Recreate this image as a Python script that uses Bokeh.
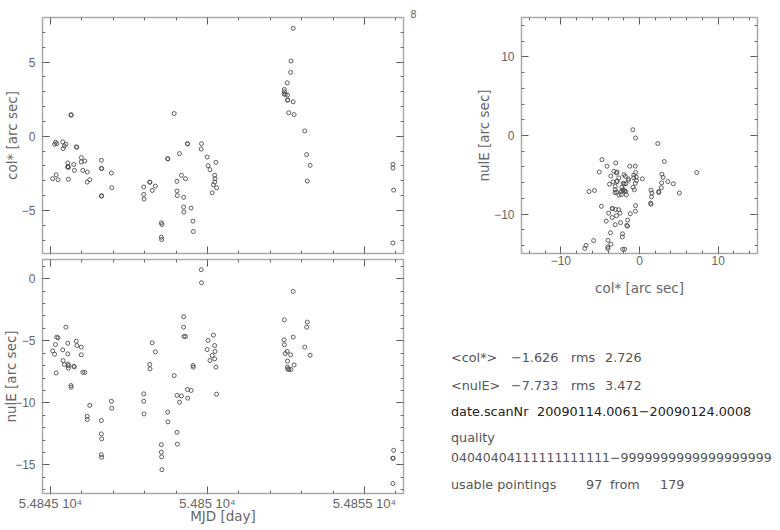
from bokeh.plotting import figure
from bokeh.layouts import row, column
from bokeh.models import LinearAxis, FixedTicker, Range1d, ColumnDataSource, Div
from bokeh.embed import file_html
from bokeh.resources import INLINE
from html import escape

# ---------------- data ----------------
mjd = [54845.07, 54845.13, 54845.16, 54845.18, 54845.20, 54845.24, 54845.39, 54845.40,
       54845.44, 54845.49, 54845.55, 54845.55, 54845.56, 54845.57, 54845.57, 54845.65,
       54845.66, 54845.74, 54845.76, 54845.82, 54845.84, 54845.98, 54845.98, 54846.03,
       54846.09, 54846.17, 54846.17, 54846.25, 54846.62, 54846.62, 54846.63, 54846.62,
       54846.63, 54846.94, 54846.95,
       54847.97, 54847.97, 54847.98, 54848.16, 54848.17, 54848.24, 54848.34, 54848.53,
       54848.53, 54848.54, 54848.55, 54848.73, 54848.74, 54848.94, 54849.03, 54849.03,
       54849.04, 54849.11, 54849.17, 54849.24, 54849.24, 54849.25, 54849.30, 54849.36,
       54849.37, 54849.48, 54849.54, 54849.55, 54849.80, 54849.81, 54849.99, 54850.02,
       54850.08, 54850.15, 54850.19, 54850.23, 54850.24, 54850.23, 54850.27, 54850.29,
       54852.44, 54852.45, 54852.45, 54852.48, 54852.54, 54852.55, 54852.55, 54852.56,
       54852.59, 54852.65, 54852.66, 54852.73, 54852.73, 54852.76, 54853.10, 54853.16,
       54853.18, 54853.27,
       54855.91, 54855.91, 54855.93, 54855.91]
col_star = [-2.86, -0.54, -0.40, -2.60, -0.50, -2.93, -0.38, -0.83,
            -0.65, -0.54, -1.80, -2.07, -2.05, -2.90, -2.10, 1.42,
            1.45, -1.90, -2.30, -0.72, -0.74, -1.44, -1.73, -2.30,
            -1.67, -2.41, -3.09, -2.93, -1.62, -2.16, -2.18, -4.03,
            -4.01, -2.48, -3.47,
            -3.42, -3.92, -4.23, -3.09, -3.10, -3.65, -3.36, -5.83,
            -6.80, -6.96, -5.95, -1.51, -1.53, 1.53, -3.04, -3.69,
            -4.00, -1.17, -2.63, -4.77, -4.12, -5.11, -2.86, -0.50,
            -0.52, -4.84, -5.72, -6.42, -0.86, -0.50, -1.40, -1.98,
            -2.25, -3.81, -3.27, -2.63, -2.86, -3.09, -1.76, -3.47,
            2.84, 3.00, 3.15, 2.82, 3.60, 2.77, 2.43, 2.45,
            1.58, 4.30, 5.07, 7.27, 2.32, 1.46, 0.36, -1.24,
            -3.02, -1.96,
            -1.89, -2.14, -3.63, -7.19]
nu_le = [-5.81, -6.08, -5.30, -7.58, -4.70, -4.76, -5.73, -6.59,
         -6.91, -3.90, -5.19, -6.05, -6.88, -7.20, -7.00, -8.60,
         -8.74, -7.05, -7.10, -5.03, -5.38, -5.51, -6.13, -7.53,
         -7.55, -11.08, -11.34, -10.20, -11.42, -12.50, -12.90, -14.17,
         -14.38, -9.87, -10.43,
         -9.27, -9.87, -10.89, -6.90, -7.26, -5.16, -5.89, -13.36,
         -13.97, -14.35, -15.38, -10.75, -11.53, -7.80, -9.40, -12.37,
         -13.33, -9.95, -9.44, -3.06, -3.90, -4.65, -4.65, -8.92,
         -9.62, -9.00, -6.99, -7.12, 0.73, -0.32, -5.70, -4.97,
         -6.59, -6.18, -4.54, -5.38, -5.86, -6.45, -7.12, -9.30,
         -4.92, -5.32, -3.31, -6.02, -5.86, -6.64, -7.12, -7.26,
         -7.31, -6.13, -7.31, -4.70, -1.02, -6.94, -5.51, -3.90,
         -3.49, -6.16,
         -14.46, -14.46, -13.82, -16.50]

mjd_major = [54845, 54850, 54855]
mjd_minor = list(range(54844, 54857))
mjd_tick_labels = ["5.4845 10\u2074", "5.485 10\u2074", "5.4855 10\u2074"]

col_major = [-5, 0, 5]
col_minor = list(range(-7, 8))
col_tick_labels = ["\u22125", "0", "5"]

nul_major = [-15, -10, -5, 0]
nul_minor = list(range(-17, 2))
nul_tick_labels = ["\u221215", "\u221210", "\u22125", "0"]

sc_major = [-10, 0, 10]
sc_minor = list(range(-14, 15, 2))
sc_tick_labels = ["\u221210", "0", "10"]

page_number = "8"
stat_lines = [
    ["<col*>", "\u22121.626", "rms", "2.726"],
    ["<nulE>", "\u22127.733", "rms", "3.472"],
    ["date.scanNr", "20090114.0061\u221220090124.0008"],
    ["quality"],
    ["04040404111111111111\u22129999999999999999999"],
    ["usable pointings", "97", "from", "179"],
]

# ---------------- styling helpers ----------------
TICK_FONT = "Liberation Sans"
LABEL_FONT = "DejaVu Sans"
GREY = "#666666"
FRAME = "#aaaaaa"


def make_axis(major, minor, labels=None, axis_label=None, tick_size="12px",
              tick_standoff=7, label_standoff=0, label_size="13.5px"):
    ax = LinearAxis(ticker=FixedTicker(ticks=major, minor_ticks=minor))
    ax.axis_line_color = None
    ax.major_tick_in = 7
    ax.major_tick_out = 0
    ax.minor_tick_in = 3
    ax.minor_tick_out = 0
    ax.major_tick_line_color = "#555555"
    ax.minor_tick_line_color = "#6a6a6a"
    if labels is None:
        ax.major_label_text_font_size = "0px"
        ax.major_label_text_color = None
        ax.major_label_standoff = 0
    else:
        ax.major_label_overrides = dict(zip(major, labels))
        ax.major_label_text_font = TICK_FONT
        ax.major_label_text_font_size = tick_size
        ax.major_label_text_color = GREY
        ax.major_label_standoff = tick_standoff
    if axis_label is not None:
        ax.axis_label = axis_label
        ax.axis_label_text_font = LABEL_FONT
        ax.axis_label_text_font_size = label_size
        ax.axis_label_text_font_style = "normal"
        ax.axis_label_text_color = GREY
        ax.axis_label_standoff = label_standoff
    return ax


def make_fig(xr, yr, fw, fh, left, right, top, bottom):
    p = figure(x_range=xr, y_range=yr, frame_width=fw, frame_height=fh,
               min_border_left=left, min_border_right=right,
               min_border_top=top, min_border_bottom=bottom,
               x_axis_location=None, y_axis_location=None,
               toolbar_location=None, output_backend="svg")
    p.grid.visible = False
    p.outline_line_color = FRAME
    p.outline_line_width = 1.5
    p.background_fill_color = "white"
    p.border_fill_color = "white"
    return p


src = ColumnDataSource(dict(mjd=mjd, col=col_star, nul=nu_le))
mjd_range = Range1d(54844.745, 54856.245)
marker_kw = dict(marker="circle", size=4, fill_color=None,
                 line_color="#4d4d4d", line_width=0.9)

# ---------------- top left: col* vs MJD ----------------
p1 = make_fig(mjd_range, Range1d(-7.9, 8.0), 361, 236, 36, 16, 17, 3)
p1.title.text = page_number
p1.title.align = "right"
p1.title.text_font = LABEL_FONT
p1.title.text_font_size = "10px"
p1.title.text_font_style = "normal"
p1.title.text_color = GREY
p1.title.standoff = 0
p1.title.offset = -13
p1.add_layout(make_axis(col_major, col_minor, col_tick_labels, "col* [arc sec]",
                        label_standoff=-1), "left")
p1.add_layout(make_axis(col_major, col_minor), "right")
p1.add_layout(make_axis(mjd_major, mjd_minor), "below")
p1.add_layout(make_axis(mjd_major, mjd_minor), "above")
p1.scatter("mjd", "col", source=src, **marker_kw)

# ---------------- bottom left: nulE vs MJD ----------------
p2 = make_fig(mjd_range, Range1d(-17.3, 1.55), 361, 234, 36, 16, 3, 20)
p2.add_layout(make_axis(nul_major, nul_minor, nul_tick_labels, "nulE [arc sec]",
                        label_standoff=-7), "left")
p2.add_layout(make_axis(nul_major, nul_minor), "right")
p2.add_layout(make_axis(mjd_major, mjd_minor, mjd_tick_labels, "MJD [day]",
                        tick_size="13px", tick_standoff=2, label_standoff=-6), "below")
p2.add_layout(make_axis(mjd_major, mjd_minor), "above")
p2.scatter("mjd", "nul", source=src, **marker_kw)

# ---------------- top right: nulE vs col* ----------------
p3 = make_fig(Range1d(-15, 15), Range1d(-15, 15), 236, 236, 102, 10, 17, 45)
p3.add_layout(make_axis(sc_major, sc_minor, sc_tick_labels, "nulE [arc sec]",
                        label_standoff=-1), "left")
p3.add_layout(make_axis(sc_major, sc_minor), "right")
p3.add_layout(make_axis(sc_major, sc_minor, sc_tick_labels, "col* [arc sec]",
                        tick_standoff=2, label_standoff=12), "below")
p3.add_layout(make_axis(sc_major, sc_minor), "above")
p3.scatter("col", "nul", source=src, **marker_kw)

# ---------------- text block (HTML, positioned spans) ----------------
row_top = [52, 80, 106, 132, 152, 179]
row_size = ["12.8px", "12.8px", "12.8px", "12.8px", "12.5px", "12.8px"]
piece_x = [[32, 92, 152, 186], [32, 92, 152, 186], [32, 118], [32], [32],
           [32, 167, 191, 241]]
row_color = ["#555555", "#555555", "#222222", "#555555", "#555555", "#555555"]
spans = []
for line, xs, top, c, fs in zip(stat_lines, piece_x, row_top, row_color, row_size):
    for s, xv in zip(line, xs):
        spans.append(
            f'<span style="position:absolute;left:{xv}px;top:{top}px;'
            f'white-space:pre;color:{c};font-size:{fs}">{escape(s)}</span>')
html = ('<div style="position:relative;width:348px;height:205px;'
        "font-family:'DejaVu Sans';line-height:15px;\">"
        + "".join(spans) + "</div>")
text_block = Div(text=html, width=348, height=205, margin=0)

layout = row(column(p1, p2), column(p3, text_block))
open("out.html", "w").write(file_html(layout, INLINE))
